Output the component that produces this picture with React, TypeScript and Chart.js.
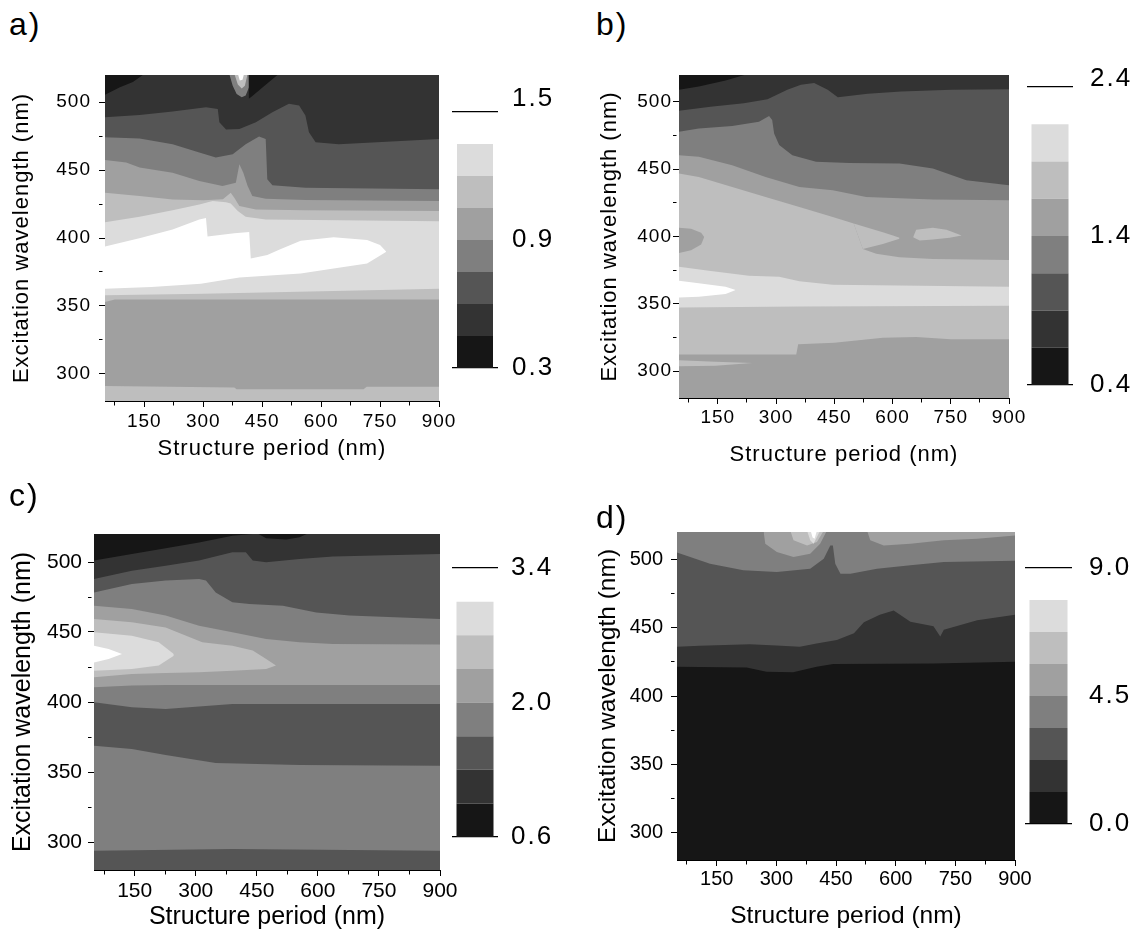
import React, { useEffect, useRef } from 'react';
import { Chart, registerables } from 'chart.js';

Chart.register(...registerables);

const FONT = '"Liberation Sans", Arial, Helvetica, sans-serif';

// contour level colours, darkest (level 0) to lightest (level 7)
const GRAYS = ['#161616', '#333333', '#555555', '#7f7f7f', '#a0a0a0', '#bebebe', '#dcdcdc', '#ffffff'];

const X_TICKS = [75, 150, 225, 300, 375, 450, 525, 600, 675, 750, 825, 900];
const Y_TICKS = [300, 325, 350, 375, 400, 425, 450, 475, 500];
const X_TITLE = 'Structure period (nm)';
const Y_TITLE = 'Excitation wavelength (nm)';

// ---------- panel a : level boundaries [period nm, wavelength nm] ----------
const aB1 = [[50, 291], [379, 290], [385, 288.6], [708, 288.6], [716, 290.5], [900, 290.5]];
const aB2 = [[50, 352.8], [75, 354.8], [900, 354.8]];
const aB3 = [[50, 357.8], [300, 359], [632, 361], [900, 362.7]];
const aWhiteLo = [[50, 362.7], [168, 364], [294, 366.4], [392, 371], [421, 371.4], [548, 373.8], [632, 377.5], [717, 381.2], [766, 389.9]];
const aWhiteHi = [[50, 393.7], [140, 400], [222, 406.3], [290, 413.6], [307, 414.8], [311, 401.1], [379, 403.5], [417, 404.5], [421, 385], [463, 387.4], [493, 391.4], [548, 398], [632, 400.5], [717, 398.6], [750, 394.8], [766, 389.9]];
const aB6 = [[50, 411.6], [138, 415.6], [222, 420.5], [290, 424.7], [324, 427.2], [358, 426.4], [370, 425.4], [388, 419.8], [408, 415.6], [459, 413.6], [900, 412.3]];
const aB7 = [[50, 433.3], [138, 430.9], [222, 428.4], [300, 427.8], [350, 428.6], [370, 433.3], [379, 429.6], [392, 423.5], [434, 421], [560, 420.5], [900, 419.8]];
const aB8 = [[50, 457.5], [104, 455.6], [138, 451.9], [222, 448.1], [290, 442], [349, 438.3], [383, 440.7], [392, 454.3], [402, 448.1], [413, 438.3], [425, 430.9], [459, 428.9], [560, 427.9], [900, 427.2]];
const aB9 = [[50, 474.1], [138, 473.3], [222, 469.1], [290, 463], [332, 459.3], [375, 461.7], [408, 469.1], [442, 474.8], [459, 472.8], [463, 443.2], [476, 438.8], [560, 437], [900, 435.8]];
const aB10 = [[50, 488.9], [138, 490.6], [222, 493.1], [307, 496.3], [337, 495], [341, 485.2], [358, 479.8], [392, 480.2], [434, 485.2], [476, 492.6], [518, 498.8], [544, 497.5], [560, 490.1], [569, 477.8], [586, 470.4], [645, 469.1], [900, 472.8]];
const aHalo = [[366, 521], [375, 512], [385, 506], [398, 503.7], [408, 505], [418, 512], [430, 521]];
const aInner = [[379, 521], [388, 513], [398, 510], [406, 512], [413, 521]];
const aCore = [[388, 521], [393, 516], [400, 516.5], [404, 521]];
const aCorner = [[50, 505.5], [88, 511], [121, 514.8], [151, 521]];
const aWedge = [[415, 521], [416, 502.5], [425, 504.5], [459, 512.8], [493, 521]];

// ---------- panel b ----------
const bStripLo = [[50, 303.5], [144, 304], [239, 306]];
const bStripHi = [[50, 308], [144, 307], [239, 306]];
const bB1 = [[50, 312.4], [352, 312.4], [357, 319.9], [450, 321], [575, 324.8], [661, 325.4], [750, 323.6], [900, 323.6]];
const bB2 = [[50, 347.3], [360, 348], [900, 348.5]];
const bWhiteLo = [[50, 354.7], [101, 355.2], [170, 357.2], [196, 360.2]];
const bWhiteHi = [[50, 367.2], [101, 365.2], [170, 362.7], [196, 360.2]];
const bB3 = [[50, 377.6], [127, 374.6], [230, 370.9], [308, 370.1], [360, 366.7], [446, 364.2], [900, 362.7]];
const bIslLo = [[50, 387.8], [81, 389.8], [107, 394], [115, 399.7]];
const bIslHi = [[50, 406.5], [81, 405.7], [107, 402.7], [115, 399.7]];
const bB4 = [[50, 446.8], [101, 444.3], [187, 436.8], [273, 429.4], [360, 421.9], [446, 414.4], [500, 409.7], [523.5, 390.8], [558, 387.1], [618, 384.6], [704, 383.3], [900, 382.6]];
const bTongueLo = [[500, 409.7], [523.5, 390.8], [575, 394.5], [618, 398.3]];
const bTongueHi = [[500, 409.7], [523.5, 407.7], [575, 403.2], [601, 400.7], [618, 399]];
const bIsl2Lo = [[653, 399.5], [670, 397], [704, 397.8], [747, 399], [778, 400.7]];
const bIsl2Hi = [[653, 399.5], [661, 405], [704, 406.5], [739, 405], [756, 403.2], [778, 400.7]];
const bB5 = [[50, 460.4], [101, 459.2], [187, 453], [273, 444.3], [360, 436.8], [446, 434.3], [532, 429.4], [704, 427.4], [900, 426.9]];
const bB6 = [[50, 477.9], [101, 480.3], [187, 482.1], [256, 485.3], [282, 489.6], [290, 486.6], [295, 476.6], [308, 467.9], [342, 460.4], [403, 455.5], [489, 454.7], [618, 454.2], [704, 450.5], [790, 441.8], [900, 438.1]];
const bB7 = [[50, 493.5], [131, 496.5], [217, 499], [278, 502], [329, 509], [364, 512.7], [398, 514], [433, 509], [459, 503.5], [536, 506], [622, 507.7], [752, 509], [900, 509.5]];
const bCorner = [[50, 509], [101, 511.4], [170, 515.9], [230, 521]];

// ---------- panel c ----------
const cB1 = [[50, 293.8], [390, 295], [900, 293.8]];
const cB2 = [[50, 368.8], [143, 366.4], [226, 362.1], [349, 356.4], [555, 355], [900, 354.5]];
const cB3 = [[50, 399.8], [143, 396.2], [226, 395], [390, 398.6], [900, 398.6]];
const cB4 = [[50, 410.5], [143, 411.7], [226, 412.1], [390, 412.1], [900, 412.1]];
const cL5Lo = [[50, 417.6], [143, 420], [226, 420.7], [308, 421.2], [390, 422.4], [473, 423.6], [497, 426]];
const cL5Hi = [[50, 459.3], [143, 456.9], [226, 453.3], [316, 442.6], [390, 440.2], [440, 436.7], [473, 430.7], [497, 426]];
const cL6Lo = [[50, 422.4], [143, 423.6], [209, 426], [246, 433.1]];
const cL6Hi = [[50, 449.8], [143, 447.4], [209, 442.6], [246, 434.3]];
const cWhiteLo = [[50, 428.3], [86, 430.7], [119, 434.3]];
const cWhiteHi = [[50, 440.2], [86, 437.9], [119, 434.3]];
const cB5 = [[50, 468.8], [143, 466.4], [226, 461.7], [308, 454.5], [390, 449.8], [473, 445], [555, 442.6], [637, 441.4], [900, 441]];
const cB6 = [[50, 478.3], [143, 484.3], [226, 486.7], [308, 487.9], [325, 486.7], [349, 478.3], [390, 471.2], [432, 470], [514, 468.8], [596, 464], [678, 461.7], [900, 459.3]];
const cB7 = [[50, 487.9], [143, 493.8], [226, 497.4], [308, 501], [390, 506.9], [423, 506.9], [440, 501], [473, 499.8], [555, 502.1], [637, 504], [900, 505.7]];
const cB8 = [[50, 501], [143, 505.7], [226, 509.8], [308, 514], [390, 518.8], [440, 520], [448, 521.5], [900, 522]];
const cSliver = [[448, 521], [473, 516.9], [522, 516], [555, 517.6], [580, 521]];

// ---------- panel d ----------
const dB1 = [[50, 421.4], [225, 420.9], [275, 417.8], [342, 417.3], [401, 421.4], [443, 423.4], [695, 423.8], [900, 425]];
const dB2 = [[50, 436], [107, 436.7], [233, 437.9], [300, 437], [359, 436], [401, 438.4], [452, 440.9], [495, 446], [520, 454], [560, 459.5], [595, 462.5], [637, 454.3], [695, 451], [712, 443.5], [721, 448.5], [805, 455.5], [900, 459.5]];
const dB3 = [[50, 505], [133, 496.8], [217, 492], [301, 490.8], [385, 493.2], [419, 500.5], [435.5, 510.2], [442, 510.2], [448, 496.8], [461, 489.5], [486, 489.5], [553, 493.2], [637, 495.6], [721, 498.1], [900, 499]];
const dBlob = [[267.5, 521], [272, 511.4], [301, 505.4], [343, 501.7], [385, 504.1], [410, 511.4], [427, 521]];
const dBlob2 = [[335, 521], [343, 513.9], [377, 510.2], [402, 512.7], [419, 521]];
const dBlob3 = [[377, 521], [385, 513.9], [393.5, 511.4], [402, 516.3], [410, 521]];
const dBlob4 = [[386, 521], [391, 516], [396, 515], [402, 521]];
const dRight = [[528, 521], [536, 513.9], [570, 510.2], [637, 511.4], [721, 513.9], [805, 515.1], [900, 517.5]];

// colour-bar ranges [low, middle, high]
const aRange = [0.3, 0.9, 1.5];
const bRange = [0.4, 1.4, 2.4];
const cRange = [0.6, 2.0, 3.4];
const dRange = [0.0, 4.5, 9.0];

// c: colour level; p: boundary painted upward to the top; lo/hi: closed island between two curves
type Layer = { c: number; p?: number[][]; lo?: number[][]; hi?: number[][] };

const spacingPlugin = {
  id: 'spacing',
  beforeDraw(chart: any, _a: any, opts: any) {
    chart.ctx.letterSpacing = `${(opts && opts.px) || 0}px`;
  },
  afterDraw(chart: any) {
    chart.ctx.letterSpacing = '0px';
  },
};

interface PanelCfg {
  base: number;
  layers: Layer[];
  plot: { l: number; t: number; r: number; b: number };
  yTitleCx: number;
  xTitleCy: number;
  tickSize: number;
  titleSize: number;
  spacing: number;
  yPad: number;
  xPad: number;
}

const PAD_T = 30;
const PAD_R = 30;

const toXY = (p: number[][]) => p.map(([x, y]) => ({ x, y }));

function buildDatasets(cfg: PanelCfg) {
  const raw: any[] = [{ data: toXY([[50, 260], [900, 260]]), backgroundColor: GRAYS[cfg.base], fill: 'end' }];
  cfg.layers.forEach((l) => {
    if (l.p) {
      raw.push({ data: toXY(l.p), backgroundColor: GRAYS[l.c], fill: 'end' });
    } else if (l.lo && l.hi) {
      raw.push({ data: toXY(l.lo), backgroundColor: 'rgba(0,0,0,0)', fill: false });
      raw.push({ data: toXY(l.hi), backgroundColor: GRAYS[l.c], fill: '-1' });
    }
  });
  return raw.map((d, i) => ({
    ...d,
    borderColor: 'rgba(0,0,0,0)',
    borderWidth: 0,
    pointRadius: 0,
    pointHoverRadius: 0,
    tension: 0,
    order: raw.length - i,
  }));
}

function ContourPanel({ cfg }: { cfg: PanelCfg }) {
  const ref = useRef<HTMLCanvasElement>(null);
  const L = Math.round(cfg.yTitleCx - 0.6 * cfg.titleSize);
  const T = cfg.plot.t - PAD_T;
  const R = cfg.plot.r + PAD_R;
  const B = Math.round(cfg.xTitleCy + 0.6 * cfg.titleSize);
  const W = R - L;
  const H = B - T;

  useEffect(() => {
    const datasets = buildDatasets(cfg);
    const tickFont = { family: FONT, size: cfg.tickSize };
    const titleFont = { family: FONT, size: cfg.titleSize };
    const chart = new Chart(ref.current as HTMLCanvasElement, {
      type: 'line',
      data: { datasets } as any,
      plugins: [spacingPlugin as any],
      options: {
        animation: false,
        responsive: false,
        devicePixelRatio: 1,
        events: [],
        layout: { padding: { left: 0, top: PAD_T, right: PAD_R, bottom: 0 } },
        plugins: {
          legend: { display: false },
          tooltip: { enabled: false },
          spacing: { px: cfg.spacing },
        } as any,
        scales: {
          x: {
            type: 'linear',
            min: 50,
            max: 900,
            afterBuildTicks: (s: any) => {
              s.ticks = X_TICKS.map((v) => ({ value: v }));
            },
            afterFit: (s: any) => {
              s.height = B - cfg.plot.b;
            },
            ticks: {
              autoSkip: false,
              maxRotation: 0,
              minRotation: 0,
              padding: cfg.xPad,
              color: '#000',
              font: tickFont,
              callback: (v: any) => (Number(v) % 150 === 0 ? String(v) : ''),
            },
            grid: {
              drawOnChartArea: false,
              drawTicks: true,
              tickLength: 6,
              tickColor: '#000',
              tickWidth: 1,
              tickBorderDash: (ctx: any) => (ctx.tick && ctx.tick.value % 150 !== 0 ? [3.5, 20] : []),
            },
            border: { display: true, color: '#000', width: 1 },
            title: { display: true, text: X_TITLE, color: '#000', font: titleFont, padding: 0 },
          },
          y: {
            type: 'linear',
            min: 280,
            max: 520,
            afterBuildTicks: (s: any) => {
              s.ticks = Y_TICKS.map((v) => ({ value: v }));
            },
            afterFit: (s: any) => {
              s.width = cfg.plot.l - L;
            },
            ticks: {
              autoSkip: false,
              padding: cfg.yPad,
              color: '#000',
              font: tickFont,
              callback: (v: any) => (Number(v) % 50 === 0 ? String(v) : ''),
            },
            grid: {
              drawOnChartArea: false,
              drawTicks: true,
              tickLength: 6,
              tickColor: '#000',
              tickWidth: 1,
              tickBorderDash: (ctx: any) => (ctx.tick && ctx.tick.value % 50 !== 0 ? [3.5, 20] : []),
            },
            border: { display: true, color: '#000', width: 1 },
            title: { display: true, text: Y_TITLE, color: '#000', font: titleFont, padding: 0 },
          },
        },
      } as any,
    });
    return () => chart.destroy();
  }, []);

  return (
    <canvas
      ref={ref}
      width={W}
      height={H}
      style={{ position: 'absolute', left: L, top: T, width: W, height: H }}
    />
  );
}

interface BarCfg {
  range: number[];
  lineL: number;
  lineR: number;
  hiY: number;
  loY: number;
  barW: number;
  pad: number;
  topShift: number;
}

const LABEL_W = 80;
const BAR_PAD = 60;
const BAR_FONT = 26;

function ColorBar({ cfg }: { cfg: BarCfg }) {
  const ref = useRef<HTMLCanvasElement>(null);
  const L = cfg.lineL;
  const T = cfg.hiY - BAR_PAD;
  const W = cfg.lineR - cfg.lineL + LABEL_W;
  const H = cfg.loY - cfg.hiY + 2 * BAR_PAD;
  useEffect(() => {
    const [lo, mid, hi] = cfg.range;
    const step = (hi - lo) / 8;
    const datasets = GRAYS.map((g, k) => ({
      data: [[lo + k * step, lo + (k + 1) * step]],
      backgroundColor: k === 7 ? 'rgba(0,0,0,0)' : g,
      borderWidth: 0,
      grouped: false,
      categoryPercentage: 1,
      barPercentage: cfg.barW / (cfg.lineR - cfg.lineL),
    }));
    const isTop = (ctx: any) => ctx.tick && ctx.tick.value === hi;
    const chart = new Chart(ref.current as HTMLCanvasElement, {
      type: 'bar',
      data: { labels: [''], datasets } as any,
      plugins: [spacingPlugin as any],
      options: {
        animation: false,
        responsive: false,
        devicePixelRatio: 1,
        events: [],
        layout: { padding: { left: 0, right: 0, top: BAR_PAD, bottom: BAR_PAD } },
        plugins: { legend: { display: false }, tooltip: { enabled: false }, spacing: { px: 2 } } as any,
        scales: {
          x: { display: false },
          y: {
            position: 'right',
            min: lo,
            max: hi,
            z: 1,
            afterBuildTicks: (s: any) => {
              s.ticks = [lo, mid, hi].map((v) => ({ value: v }));
            },
            afterFit: (s: any) => {
              s.width = LABEL_W;
            },
            ticks: {
              padding: cfg.pad,
              color: '#000',
              font: (ctx: any) =>
                isTop(ctx) && cfg.topShift > 0
                  ? { family: FONT, size: BAR_FONT, lineHeight: `${(2 * cfg.topShift).toFixed(1)}px` }
                  : { family: FONT, size: BAR_FONT },
              callback: (v: any) => {
                const t = Number(v).toFixed(1);
                return Number(v) === hi && cfg.topShift > 0 ? [t, ''] : t;
              },
            },
            grid: {
              drawTicks: false,
              lineWidth: 1.3,
              color: (ctx: any) =>
                ctx.tick && (ctx.tick.value === lo || ctx.tick.value === hi) ? '#000' : 'rgba(0,0,0,0)',
            },
            border: { display: false },
          },
        },
      } as any,
    });
    return () => chart.destroy();
  }, []);
  return (
    <canvas
      ref={ref}
      width={W}
      height={H}
      style={{ position: 'absolute', left: L, top: T, width: W, height: H }}
    />
  );
}

const PANEL_A: PanelCfg = {
  base: 5,
  layers: [
    { c: 4, p: aB1 }, { c: 5, p: aB2 }, { c: 6, p: aB3 },
    { c: 7, lo: aWhiteLo, hi: aWhiteHi },
    { c: 5, p: aB6 }, { c: 4, p: aB7 }, { c: 3, p: aB8 }, { c: 2, p: aB9 }, { c: 1, p: aB10 },
    { c: 3, p: aHalo }, { c: 5, p: aInner }, { c: 7, p: aCore },
    { c: 0, p: aCorner }, { c: 0, p: aWedge },
  ],
  plot: { l: 105, t: 75, r: 439, b: 401 },
  yTitleCx: 22, xTitleCy: 449, tickSize: 19, titleSize: 22, spacing: 1, yPad: 8, xPad: 3.6,
};

const PANEL_B: PanelCfg = {
  base: 4,
  layers: [
    { c: 5, lo: bStripLo, hi: bStripHi },
    { c: 5, p: bB1 }, { c: 6, p: bB2 },
    { c: 7, lo: bWhiteLo, hi: bWhiteHi },
    { c: 5, p: bB3 },
    { c: 4, lo: bIslLo, hi: bIslHi },
    { c: 4, p: bB4 },
    { c: 5, lo: bTongueLo, hi: bTongueHi },
    { c: 5, lo: bIsl2Lo, hi: bIsl2Hi },
    { c: 3, p: bB5 }, { c: 2, p: bB6 }, { c: 1, p: bB7 }, { c: 0, p: bCorner },
  ],
  plot: { l: 679, t: 75, r: 1009, b: 398 },
  yTitleCx: 610, xTitleCy: 455, tickSize: 19, titleSize: 22, spacing: 1, yPad: 1, xPad: 2.6,
};

const PANEL_C: PanelCfg = {
  base: 2,
  layers: [
    { c: 3, p: cB1 }, { c: 2, p: cB2 }, { c: 3, p: cB3 }, { c: 4, p: cB4 },
    { c: 5, lo: cL5Lo, hi: cL5Hi },
    { c: 6, lo: cL6Lo, hi: cL6Hi },
    { c: 7, lo: cWhiteLo, hi: cWhiteHi },
    { c: 3, p: cB5 }, { c: 2, p: cB6 }, { c: 1, p: cB7 }, { c: 0, p: cB8 }, { c: 0, p: cSliver },
  ],
  plot: { l: 94, t: 534, r: 440, b: 870 },
  yTitleCx: 22.5, xTitleCy: 917, tickSize: 21, titleSize: 25, spacing: 0, yPad: 6, xPad: 2.4,
};

const PANEL_D: PanelCfg = {
  base: 0,
  layers: [
    { c: 1, p: dB1 }, { c: 2, p: dB2 }, { c: 3, p: dB3 },
    { c: 4, p: dBlob }, { c: 5, p: dBlob2 }, { c: 6, p: dBlob3 }, { c: 7, p: dBlob4 },
    { c: 4, p: dRight },
  ],
  plot: { l: 677, t: 532, r: 1015, b: 860 },
  yTitleCx: 609, xTitleCy: 916, tickSize: 20, titleSize: 24.5, spacing: 0, yPad: 8, xPad: 1,
};

const BAR_A: BarCfg = { range: aRange, lineL: 452, lineR: 498, hiY: 112, loY: 368, barW: 36, pad: 14, topShift: 13 };
const BAR_B: BarCfg = { range: bRange, lineL: 1027, lineR: 1073, hiY: 87, loY: 385, barW: 37, pad: 17, topShift: 8 };
const BAR_C: BarCfg = { range: cRange, lineL: 452, lineR: 498, hiY: 568, loY: 837, barW: 37, pad: 13, topShift: 0 };
const BAR_D: BarCfg = { range: dRange, lineL: 1025, lineR: 1072, hiY: 568, loY: 824, barW: 38, pad: 17, topShift: 0 };

const labelStyle = (left: number, top: number): React.CSSProperties => ({
  position: 'absolute',
  left,
  top,
  fontFamily: FONT,
  fontSize: 32,
  lineHeight: 1,
  letterSpacing: '2px',
  color: '#000',
});

export default function App() {
  return (
    <div
      style={{
        position: 'absolute',
        left: 0,
        top: 0,
        width: 1136,
        height: 933,
        background: '#fff',
        overflow: 'hidden',
      }}
    >
      <ContourPanel cfg={PANEL_A} />
      <ContourPanel cfg={PANEL_B} />
      <ContourPanel cfg={PANEL_C} />
      <ContourPanel cfg={PANEL_D} />
      <ColorBar cfg={BAR_A} />
      <ColorBar cfg={BAR_B} />
      <ColorBar cfg={BAR_C} />
      <ColorBar cfg={BAR_D} />
      <div style={labelStyle(9, 8)}>a)</div>
      <div style={labelStyle(596, 8)}>b)</div>
      <div style={labelStyle(9, 479)}>c)</div>
      <div style={labelStyle(596, 501)}>d)</div>
    </div>
  );
}
